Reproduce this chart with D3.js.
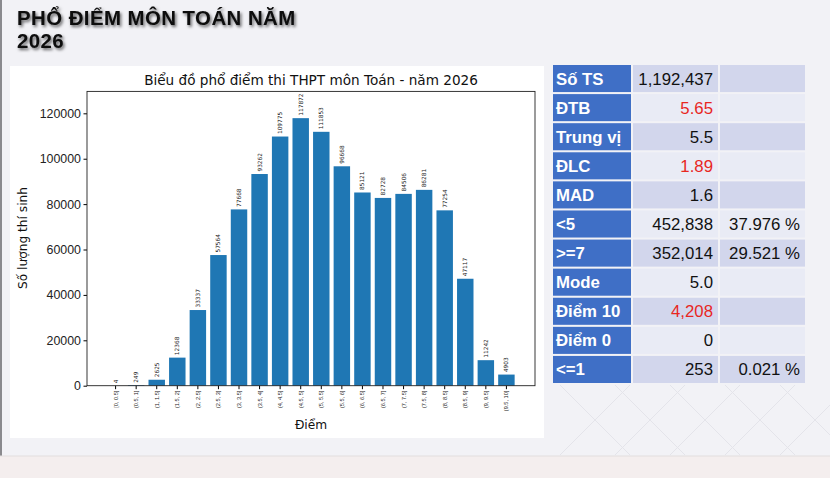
<!DOCTYPE html>
<html><head><meta charset="utf-8">
<script src="https://cdn.jsdelivr.net/npm/d3@7"></script>
<style>
html,body{margin:0;padding:0;background:#f2f2f6;}
svg{display:block;}
</style></head>
<body>
<svg id="c" width="830" height="478"></svg>
<script>
const categories = ["[0, 0.5]","(0.5, 1]","(1, 1.5]","(1.5, 2]","(2, 2.5]","(2.5, 3]","(3, 3.5]","(3.5, 4]","(4, 4.5]","(4.5, 5]","(5, 5.5]","(5.5, 6]","(6, 6.5]","(6.5, 7]","(7, 7.5]","(7.5, 8]","(8, 8.5]","(8.5, 9]","(9, 9.5]","(9.5, 10]"];
const counts = [4,249,2625,12368,33337,57564,77668,93262,109775,117872,111853,96668,85121,82728,84506,86281,77254,47117,11242,4903];
const yTicks = [0,20000,40000,60000,80000,100000,120000];
const statLabels = ["Số TS","ĐTB","Trung vị","ĐLC","MAD","<5",">=7","Mode","Điểm 10","Điểm 0","<=1"];
const statValues = ["1,192,437","5.65","5.5","1.89","1.6","452,838","352,014","5.0","4,208","0","253"];
const statPercents = ["","","","","","37.976 %","29.521 %","","","","0.021 %"];
const statRed = [false,true,false,true,false,false,false,false,true,false,false];

const svg = d3.select("#c");
const defs = svg.append("defs");
const f = defs.append("filter").attr("id","sh").attr("x","-10%").attr("y","-30%").attr("width","130%").attr("height","180%");
f.append("feDropShadow").attr("dx",1.5).attr("dy",2).attr("stdDeviation",1.5).attr("flood-color","#000").attr("flood-opacity",0.6);

// page background details
svg.append("rect").attr("x",0).attr("y",0).attr("width",830).attr("height",478).attr("fill","#f2f2f6");
svg.append("rect").attr("x",0).attr("y",456).attr("width",830).attr("height",22).attr("fill","#f4eeee");
svg.append("line").attr("x1",1).attr("x2",1).attr("y1",0).attr("y2",456).attr("stroke","#8a8a8e").attr("stroke-width",2);
svg.append("line").attr("x1",0).attr("x2",830).attr("y1",456).attr("y2",456).attr("stroke","#e2dede").attr("stroke-width",1);

// faint cross pattern bottom right
const pat = svg.append("g").attr("stroke","#e4e4ea").attr("stroke-width",1);
for (let i=0;i<6;i++){
  const x0 = 560 + i*55;
  pat.append("line").attr("x1",x0).attr("y1",385).attr("x2",x0+70).attr("y2",455);
  pat.append("line").attr("x1",x0+70).attr("y1",385).attr("x2",x0).attr("y2",455);
}

// page title (two lines)
const titleStyle = t => t.attr("font-family","Liberation Sans, Arial, sans-serif").attr("font-weight","bold")
  .attr("font-size",20.4).attr("letter-spacing",0.45).attr("fill","#0a0a0a").attr("filter","url(#sh)");
svg.append("text").call(titleStyle).attr("x",17).attr("y",24.5).text("PHỔ ĐIỂM MÔN TOÁN NĂM");
svg.append("text").call(titleStyle).attr("x",17).attr("y",47.5).text("2026");

// chart panel
svg.append("rect").attr("x",10).attr("y",66).attr("width",534).attr("height",372).attr("fill","#ffffff");

const L=87, R=535, T=91.4, B=385.7;
const x = d3.scaleBand().domain(categories).range([L,R]).paddingInner(0.2).paddingOuter(0.99);
const y = d3.scaleLinear().domain([0, d3.max(counts)*1.1]).range([B,T]);

const g = svg.append("g").attr("font-family","DejaVu Sans, sans-serif");

g.selectAll("rect.bar").data(counts).join("rect").attr("class","bar")
  .attr("x",(d,i)=>x(categories[i])).attr("width",x.bandwidth())
  .attr("y",d=>y(d)).attr("height",d=>B-y(d)).attr("fill","#1f77b4");

g.selectAll("text.val").data(counts).join("text").attr("class","val")
  .attr("transform",(d,i)=>`translate(${x(categories[i])+x.bandwidth()/2+2},${y(d)-2.5}) rotate(-90)`)
  .attr("font-size",5.8).attr("fill","#222").text(d=>d);

// axes
const xAxis = d3.axisBottom(x).tickSize(3.5).tickSizeOuter(0);
const xg = g.append("g").attr("transform",`translate(0,${B})`).call(xAxis);
xg.select(".domain").remove();
xg.selectAll("text").attr("font-size",5.6).attr("fill","#222")
  .attr("transform","rotate(-90)").attr("text-anchor","end").attr("x",-5).attr("y",0).attr("dy","0.35em");

const yAxis = d3.axisLeft(y).tickValues(yTicks).tickSize(3.5).tickSizeOuter(0).tickFormat(d3.format("d"));
const yg = g.append("g").attr("transform",`translate(${L},0)`).call(yAxis);
yg.select(".domain").remove();
yg.selectAll("text").attr("font-size",12.4).attr("fill","#222").attr("x",-6);

g.append("rect").attr("x",L).attr("y",T).attr("width",R-L).attr("height",B-T).attr("fill","none").attr("stroke","#222").attr("stroke-width",0.9);

g.append("text").attr("x",(L+R)/2).attr("y",85).attr("text-anchor","middle").attr("font-size",13.6).attr("fill","#111")
  .text("Biểu đồ phổ điểm thi THPT môn Toán - năm 2026");
g.append("text").attr("x",(L+R)/2).attr("y",429).attr("text-anchor","middle").attr("font-size",12.2).attr("fill","#111").text("Điểm");
g.append("text").attr("transform",`translate(27,238) rotate(-90)`).attr("text-anchor","middle").attr("font-size",12.2).attr("fill","#111").text("Số lượng thí sinh");

// stats table
const cols = [553, 633, 720];
const colW = [78, 85, 85];
const rowY = d3.scaleBand().domain(d3.range(statLabels.length)).range([65, 383]).paddingInner(0.07);
const tg = svg.append("g").attr("font-family","Liberation Sans, Arial, sans-serif").attr("font-size",16.8);
statLabels.forEach((lab,i)=>{
  const yy = rowY(i), h = rowY.bandwidth();
  const light = i%2===0 ? "#d2d6ec" : "#e9ebf5";
  tg.append("rect").attr("x",cols[0]).attr("y",yy).attr("width",colW[0]).attr("height",h).attr("fill","#3f6fc6");
  tg.append("rect").attr("x",cols[1]).attr("y",yy).attr("width",colW[1]).attr("height",h).attr("fill",light);
  tg.append("rect").attr("x",cols[2]).attr("y",yy).attr("width",colW[2]).attr("height",h).attr("fill",light);
  const by = yy + h/2 + 6;
  tg.append("text").attr("x",556).attr("y",by).attr("fill","#fff").attr("font-weight","bold").text(lab);
  tg.append("text").attr("x",713).attr("y",by).attr("text-anchor","end").attr("fill",statRed[i]?"#e8271f":"#111").text(statValues[i]);
  if (statPercents[i]) tg.append("text").attr("x",800).attr("y",by).attr("text-anchor","end").attr("fill","#111").text(statPercents[i]);
});
</script>
</body></html>
